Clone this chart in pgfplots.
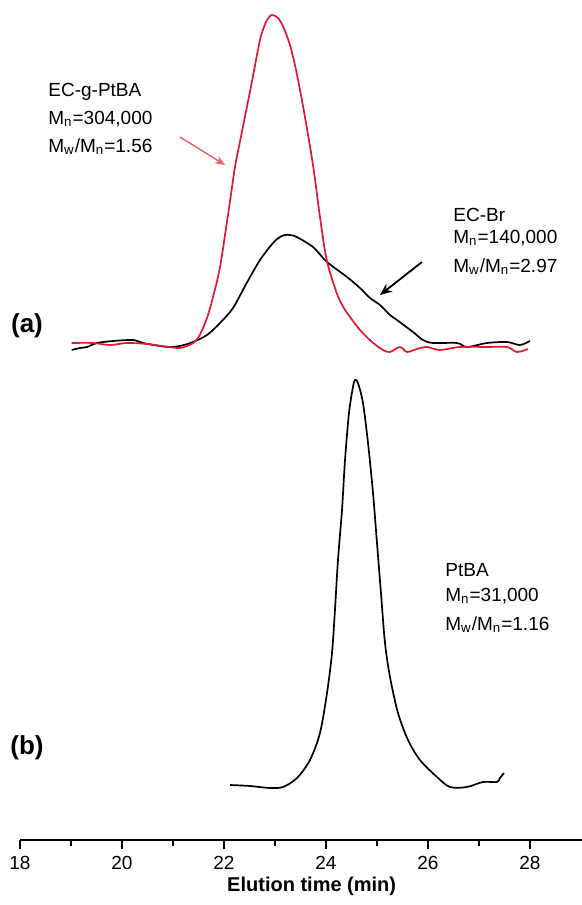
\documentclass[border=0pt]{standalone}
\usepackage{fontspec}
\setmainfont{Liberation Sans}
\usepackage{pgfplots}
\pgfplotsset{compat=1.18}
\usetikzlibrary{arrows.meta}

\definecolor{gpcred}{RGB}{228,24,44}
\definecolor{arrowred}{RGB}{236,96,108}

\begin{document}
\begin{tikzpicture}
\begin{axis}[
  name=ax,
  scale only axis, width=281pt, height=420pt,
  xmin=18, xmax=29.02, ymin=0, ymax=840,
  axis x line*=bottom, hide y axis,
  clip=false,
  xtick={18,20,...,28}, minor xtick={19,21,...,27},
  tick align=outside, major tick length=4.5pt, minor tick length=2.8pt,
  every tick/.style={black, line width=1.1pt},
  axis line style={line width=1.3pt},
  /pgf/number format/assume math mode=true,
  xticklabel style={font=\fontsize{9.5}{10}\selectfont},
  xlabel={\textbf{Elution time (min)}},
  xlabel style={font=\fontsize{10}{12}\selectfont, at={(rel axis cs:0.519,0)}, anchor=center, yshift=-23pt},
]
% (a) EC-Br precursor
\addplot[black, line width=0.85pt, smooth, tension=0.5] table {
19.014 490
19.176 492
19.314 493
19.510 497
19.824 499
20.216 500
20.412 497
20.745 494
20.941 493
21.137 494
21.392 498
21.667 505
21.922 517
22.176 532
22.445 557
22.706 580
22.961 597
23.098 603
23.196 605
23.294 605
23.425 603
23.745 593
24.020 578
24.412 563
24.667 552
24.863 542
25.059 535
25.255 525
25.392 520
25.706 508
25.902 500
26.098 497
26.569 497
26.765 493
27.157 497
27.549 498
27.804 495
28.000 499
};
% (a) EC-g-PtBA graft copolymer
\addplot[gpcred, line width=0.85pt, smooth, tension=0.5] table {
19.014 497
19.431 497
19.765 495
20.098 497
20.490 496
21.078 492
21.275 494
21.398 497
21.490 502
21.580 511
21.680 524
21.780 542
21.922 573
22.084 627
22.216 673
22.347 707
22.543 757
22.706 800
22.824 818
22.935 825
23.059 822
23.163 813
23.294 795
23.425 767
23.588 723
23.751 673
23.882 623
24.014 580
24.210 547
24.339 533
24.471 523
24.667 510
24.902 498
25.118 490
25.255 488
25.451 493
25.588 488
25.784 491
25.980 493
26.235 490
26.627 493
27.157 493
27.549 493
27.745 488
27.961 491
};
% (b) PtBA homopolymer
\addplot[black, line width=0.85pt, smooth, tension=0.5] table {
22.118 55
22.510 54
22.902 52
23.157 53
23.431 62
23.686 80
23.882 107
24.020 147
24.118 187
24.176 230
24.235 280
24.314 330
24.373 380
24.451 427
24.529 453
24.569 460
24.627 457
24.725 437
24.824 397
24.922 347
25.000 297
25.078 247
25.157 197
25.255 163
25.412 127
25.608 100
25.843 80
26.176 63
26.431 53
26.765 53
27.078 58
27.353 58
27.412 62
27.490 67
};

% panel letters
\node[font=\fontsize{13}{15}\selectfont\bfseries] at (axis cs:18.137,514) {(a)};
\node[font=\fontsize{13}{15}\selectfont\bfseries] at (axis cs:18.137,92) {(b)};

% sample annotations
\begin{scope}[every node/.style={anchor=west, inner sep=0pt, font=\fontsize{9.5}{10}\selectfont}]
\node at (axis cs:18.549,748) {EC-g-PtBA};
\node at (axis cs:18.549,721) {M\textsubscript{n}=304,000};
\node at (axis cs:18.549,693) {M\textsubscript{w}/M\textsubscript{n}=1.56};
\node at (axis cs:26.490,625) {EC-Br};
\node at (axis cs:26.490,602) {M\textsubscript{n}=140,000};
\node at (axis cs:26.490,573) {M\textsubscript{w}/M\textsubscript{n}=2.97};
\node at (axis cs:26.333,270) {PtBA};
\node at (axis cs:26.333,244) {M\textsubscript{n}=31,000};
\node at (axis cs:26.333,215) {M\textsubscript{w}/M\textsubscript{n}=1.16};
\end{scope}

\draw[arrowred, line width=0.7pt, -{Stealth[length=5pt,width=4pt]}] (axis cs:21.137,703) -- (axis cs:22.020,675);
\draw[black, line width=0.9pt, -{Stealth[length=6pt,width=5pt]}] (axis cs:25.882,578) -- (axis cs:25.059,545);
\end{axis}
\pgfresetboundingbox
\path[use as bounding box] ([xshift=-10pt,yshift=-32.5pt]ax.south west) rectangle (ax.north east);
\end{tikzpicture}
\end{document}
